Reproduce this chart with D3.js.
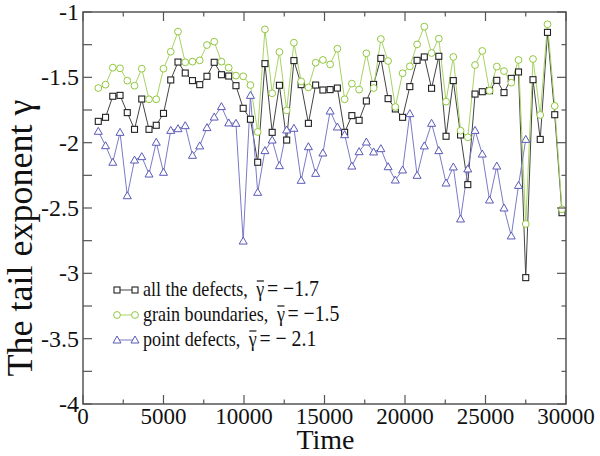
<!DOCTYPE html>
<html><head><meta charset="utf-8">
<script src="https://cdn.jsdelivr.net/npm/d3@7"></script>
<style>body{margin:0;background:#fff}svg{display:block}text{font-family:"Liberation Serif";}</style>
</head><body>
<svg id="c" width="600" height="456"></svg>
<script>
const times = [950,1400,1850,2300,2750,3200,3650,4100,4550,5000,5450,5900,6350,6800,7250,7700,8150,8600,9050,9500,9950,10400,10850,11300,11750,12200,12650,13100,13550,14000,14450,14900,15350,15800,16250,16700,17150,17600,18050,18500,18950,19400,19850,20300,20750,21200,21650,22100,22550,23000,23450,23900,24350,24800,25250,25700,26150,26600,27050,27500,27950,28400,28850,29300,29750];
const allDefects = [-1.837,-1.806,-1.645,-1.638,-1.770,-1.898,-1.666,-1.898,-1.867,-1.776,-1.520,-1.383,-1.467,-1.525,-1.556,-1.492,-1.385,-1.480,-1.490,-1.564,-1.737,-1.821,-2.150,-1.395,-1.921,-1.561,-1.980,-1.372,-1.556,-1.852,-1.559,-1.597,-1.594,-1.582,-1.921,-1.793,-1.829,-1.681,-1.554,-1.355,-1.663,-1.742,-1.806,-1.571,-1.370,-1.344,-1.584,-1.339,-1.951,-1.525,-1.941,-2.321,-1.628,-1.610,-1.602,-1.523,-1.617,-1.508,-1.459,-3.033,-1.518,-1.975,-1.156,-1.786,-2.536];
const grainBoundaries = [-1.582,-1.556,-1.426,-1.431,-1.525,-1.564,-1.434,-1.668,-1.668,-1.434,-1.304,-1.150,-1.385,-1.380,-1.370,-1.253,-1.227,-1.380,-1.426,-1.487,-1.492,-1.559,-1.918,-1.133,-1.622,-1.306,-1.753,-1.235,-1.531,-1.577,-1.388,-1.367,-1.401,-1.281,-1.668,-1.548,-1.594,-1.316,-1.582,-1.207,-1.375,-1.727,-1.469,-1.416,-1.248,-1.112,-1.314,-1.204,-1.686,-1.344,-1.908,-1.959,-1.406,-1.298,-1.602,-1.418,-1.452,-1.541,-1.367,-2.622,-1.360,-1.788,-1.094,-1.719,-2.510];
const pointDefects = [-1.913,-2.023,-2.150,-1.921,-2.406,-2.133,-2.107,-2.240,-1.997,-2.227,-1.906,-1.893,-1.870,-2.097,-2.025,-1.885,-1.804,-1.724,-1.849,-1.852,-2.753,-1.638,-2.380,-2.061,-1.980,-2.176,-1.903,-1.890,-2.288,-2.031,-2.235,-2.079,-1.758,-1.880,-1.939,-2.179,-2.069,-1.995,-2.071,-2.046,-2.184,-2.286,-2.209,-1.778,-2.250,-2.025,-1.852,-2.061,-2.309,-2.186,-2.584,-2.201,-1.906,-2.087,-2.439,-2.179,-2.500,-2.714,-2.327,-1.975];
const xTicks = [0,5000,10000,15000,20000,25000,30000];
const yTicks = [-4,-3.5,-3,-2.5,-2,-1.5,-1];
const legendNames = ["all the defects,","grain boundaries,","point defects,"];
const legendMeans = ["= \u22121.7","= \u22121.5","= \u2212 2.1"];

const svg = d3.select("#c");
const L=83,R=566,T=12,B=404;
const x = d3.scaleLinear().domain([0,30000]).range([L,R]);
const y = d3.scaleLinear().domain([-4,-1]).range([B,T]);
const axisCol = "#555";

const series = [
  {vals: allDefects, col:"#222", line:"#444", sym:"square"},
  {vals: grainBoundaries, col:"#92c83e", line:"#a6d463", sym:"circle"},
  {vals: pointDefects, col:"#5a5ab8", line:"#7a7ac8", sym:"triangle"}
];

function marker(g, sym, cx, cy, col){
  if(sym==="square") g.append("rect").attr("x",cx-3).attr("y",cy-3).attr("width",6).attr("height",6).attr("fill","#fff").attr("stroke",col).attr("stroke-width",1.1);
  else if(sym==="circle") g.append("circle").attr("cx",cx).attr("cy",cy).attr("r",3.4).attr("fill","#fff").attr("stroke",col).attr("stroke-width",1);
  else g.append("path").attr("d",`M${cx},${cy-4}L${cx+4},${cy+3}L${cx-4},${cy+3}Z`).attr("fill","#fff").attr("stroke",col).attr("stroke-width",1);
}

const gData = svg.append("g");
series.forEach(s=>{
  const pts = s.vals.map((v,i)=>[x(times[i]),y(v)]);
  gData.append("path").attr("d",d3.line()(pts)).attr("fill","none").attr("stroke",s.line).attr("stroke-width",1);
});
series.forEach(s=>{
  s.vals.forEach((v,i)=>marker(gData,s.sym,x(times[i]),y(v),s.col));
});

svg.append("rect").attr("x",L).attr("y",T).attr("width",R-L).attr("height",B-T).attr("fill","none").attr("stroke",axisCol).attr("stroke-width",1.5);

const xMinor = d3.range(2500,30000,5000);
const yMinor = d3.range(-3.75,-1,0.5);
const tg = svg.append("g").attr("stroke",axisCol).attr("stroke-width",1.2);
xTicks.forEach(t=>{ tg.append("line").attr("x1",x(t)).attr("x2",x(t)).attr("y1",B).attr("y2",B-9);
  tg.append("line").attr("x1",x(t)).attr("x2",x(t)).attr("y1",T).attr("y2",T+9);});
xMinor.forEach(t=>{ tg.append("line").attr("x1",x(t)).attr("x2",x(t)).attr("y1",B).attr("y2",B-4.5);
  tg.append("line").attr("x1",x(t)).attr("x2",x(t)).attr("y1",T).attr("y2",T+4.5);});
yTicks.forEach(t=>{ tg.append("line").attr("y1",y(t)).attr("y2",y(t)).attr("x1",L).attr("x2",L+9);
  tg.append("line").attr("y1",y(t)).attr("y2",y(t)).attr("x1",R).attr("x2",R-9);});
yMinor.forEach(t=>{ tg.append("line").attr("y1",y(t)).attr("y2",y(t)).attr("x1",L).attr("x2",L+9);
  tg.append("line").attr("y1",y(t)).attr("y2",y(t)).attr("x1",R).attr("x2",R-4.5);});

svg.append("g").selectAll("text").data(xTicks).join("text")
  .attr("x",d=>x(d)).attr("y",B+20).attr("text-anchor","middle")
  .attr("font-size",23).attr("fill","#111").text(d=>d);
svg.append("g").selectAll("text").data(yTicks).join("text")
  .attr("x",L-4).attr("y",d=>y(d)+8).attr("text-anchor","end")
  .attr("font-size",24).attr("fill","#111").text(d=>String(d));

svg.append("text").attr("x",(L+R)/2+1).attr("y",449).attr("text-anchor","middle")
  .attr("font-size",28).attr("fill","#111").text("Time");
svg.append("text").attr("transform","translate(32,238) rotate(-90)").attr("text-anchor","middle")
  .attr("font-size",36).attr("fill","#111").text("The tail exponent \u03B3");

const lg = svg.append("g");
const rowsY = [290,315,340];
series.forEach((s,i)=>{
  const yy = rowsY[i];
  lg.append("line").attr("x1",117).attr("x2",135).attr("y1",yy).attr("y2",yy).attr("stroke",s.line).attr("stroke-width",1);
  marker(lg,s.sym,117,yy,s.col);
  marker(lg,s.sym,135,yy,s.col);
  const row = lg.append("g").attr("transform",`translate(143,${yy+6}) scale(0.86,1)`);
  const t1 = row.append("text").attr("x",0).attr("y",0).attr("font-size",21).attr("fill","#111").text(legendNames[i]);
  const w = t1.node().getComputedTextLength();
  const gx = w + 10;
  const tg2 = row.append("text").attr("x",gx).attr("y",0).attr("font-size",21).attr("fill","#111").text("\u03B3");
  const gw = tg2.node().getComputedTextLength();
  row.append("line").attr("x1",gx+0.5).attr("x2",gx+gw-0.5).attr("y1",-15).attr("y2",-15).attr("stroke","#111").attr("stroke-width",1.2);
  row.append("text").attr("x",gx+gw+3).attr("y",0).attr("font-size",23).attr("fill","#111").text(legendMeans[i]);
});
</script>
</body></html>
